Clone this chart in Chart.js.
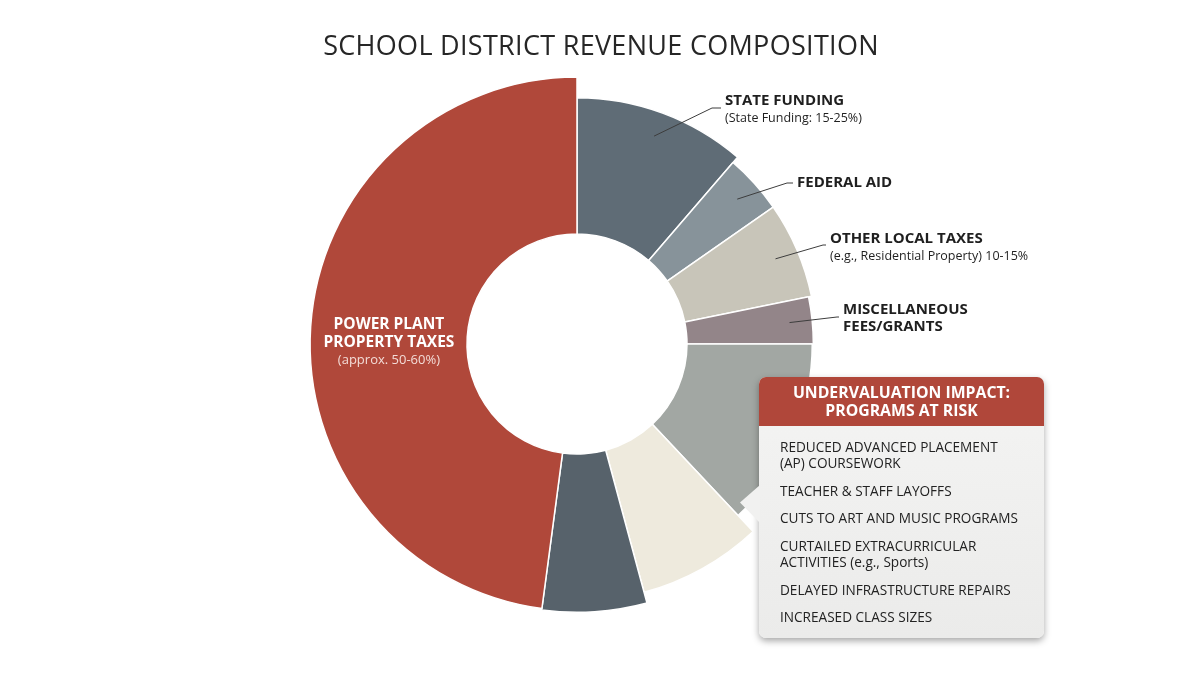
<!DOCTYPE html>
<html>
<head>
<meta charset="utf-8">
<title>School District Revenue Composition</title>
<script src="https://cdn.jsdelivr.net/npm/chart.js@4.4.0/dist/chart.umd.min.js"></script>
<style>
  html, body { margin: 0; padding: 0; background: #fff; }
  #wrap { position: relative; width: 1200px; height: 675px; overflow: hidden; font-family: "Open Sans", sans-serif; }
  #chart { position: absolute; left: 0; top: 0; }
  h1 { position: absolute; left: 0; top: 26px; width: 1202px; margin: 0; text-align: center;
       font-weight: 400; font-size: 27px; color: #262626; letter-spacing: 0.3px; }
  .risk { position: absolute; left: 759px; top: 377px; width: 285px; height: 261px; border-radius: 7px;
          background: linear-gradient(#f4f4f3, #ebebea); box-shadow: 0 3px 7px rgba(0,0,0,0.35); }
  .risk .head { background: #b0473a; color: #fff; border-radius: 7px 7px 0 0; height: 49px; box-sizing: border-box;
                padding-top: 6px; text-align: center; font-weight: 700; font-size: 15.8px; line-height: 18px; }
  .risk ul { list-style: none; margin: 0; padding: 13px 0 0 21px; font-size: 13.6px; line-height: 16px; color: #222; font-weight: 500; }
  .risk li { margin-bottom: 11.7px; }
  .pointer { position: absolute; left: 740px; top: 485px; width: 20px; height: 38px; background: #f1f1f0;
             clip-path: polygon(0 46%, 100% 0, 100% 100%); filter: drop-shadow(0 3px 1px rgba(0,0,0,0.4)); }
</style>
</head>
<body>
<div id="wrap">
  <canvas id="chart" width="1200" height="675"></canvas>
  <h1>SCHOOL DISTRICT REVENUE COMPOSITION</h1>
  <div class="risk">
    <div class="head">UNDERVALUATION IMPACT:<br>PROGRAMS AT RISK</div>
    <ul>
      <li>REDUCED ADVANCED PLACEMENT<br>(AP) COURSEWORK</li>
      <li>TEACHER &amp; STAFF LAYOFFS</li>
      <li>CUTS TO ART AND MUSIC PROGRAMS</li>
      <li>CURTAILED EXTRACURRICULAR<br>ACTIVITIES (e.g., Sports)</li>
      <li>DELAYED INFRASTRUCTURE REPAIRS</li>
      <li>INCREASED CLASS SIZES</li>
    </ul>
  </div>
  <div class="pointer"></div>
</div>
<script>
// Data (clockwise from 12 o'clock)
const labels = [
  "State Funding", "Federal Aid", "Other Local Taxes", "Miscellaneous Fees/Grants",
  "Other Revenue A", "Other Revenue B", "Other Revenue C", "Power Plant Property Taxes",
];
const shares = [11.3, 4.0, 6.5, 3.2, 13.0, 7.8, 6.3, 47.9];

// Styles
const sliceColors = ["#5f6c76", "#87939a", "#c8c5b9", "#938589", "#a2a7a3", "#eeeadd", "#57626b", "#b0483a"];
// slices in the picture do not all reach the same outer edge
const sliceReach = [0.918, 0.892, 0.892, 0.881, 0.877, 0.959, 1.0, 0.995];

// Callouts: slice index, elbow point, text start, text lines
const callouts = [
  { index: 0, elbow: [712, 108], textX: 725, lines: [["STATE FUNDING", 700, 15, 101], ["(State Funding: 15-25%)", 400, 12.5, 118]] },
  { index: 1, elbow: [787, 183], textX: 797, lines: [["FEDERAL AID", 700, 15, 183]] },
  { index: 2, elbow: [823, 245], textX: 830, lines: [["OTHER LOCAL TAXES", 700, 15, 239], ["(e.g., Residential Property) 10-15%", 400, 12.5, 256]] },
  { index: 3, elbow: [837, 317], textX: 843, lines: [["MISCELLANEOUS", 700, 15, 310], ["FEES/GRANTS", 700, 15, 327]] },
];
const centerLabel = { index: 7, lines: [["POWER PLANT", 700, 15.5, -19, "#ffffff"], ["PROPERTY TAXES", 700, 15.5, -1, "#ffffff"], ["(approx. 50-60%)", 400, 13, 16, "#f3dcd7"]] };

const FONT = '"Open Sans", sans-serif';

const reachPlugin = {
  id: "reach",
  afterDatasetsUpdate(chart) {
    chart.getDatasetMeta(0).data.forEach((arc, i) => {
      arc.outerRadius = arc.outerRadius * sliceReach[i];
    });
  },
};

const calloutPlugin = {
  id: "callouts",
  afterDatasetsDraw(chart) {
    const ctx = chart.ctx;
    const arcs = chart.getDatasetMeta(0).data;
    ctx.save();
    ctx.textBaseline = "middle";
    callouts.forEach((c) => {
      const a = arcs[c.index];
      const mid = (a.startAngle + a.endAngle) / 2;
      const r = a.innerRadius + 0.82 * (a.outerRadius - a.innerRadius);
      const sx = a.x + Math.cos(mid) * r;
      const sy = a.y + Math.sin(mid) * r;
      ctx.strokeStyle = "#3d3d3d";
      ctx.lineWidth = 1;
      ctx.beginPath();
      ctx.moveTo(sx, sy);
      ctx.lineTo(c.elbow[0], c.elbow[1]);
      ctx.lineTo(c.textX - 4, c.elbow[1]);
      ctx.stroke();
      ctx.fillStyle = "#1f1f1f";
      ctx.textAlign = "left";
      c.lines.forEach(([txt, w, size, y]) => {
        ctx.font = `${w} ${size}px ${FONT}`;
        ctx.fillText(txt, c.textX, y);
      });
    });
    // label inside the big slice
    const big = arcs[centerLabel.index];
    const p = big.getCenterPoint();
    ctx.textAlign = "center";
    centerLabel.lines.forEach(([txt, w, size, dy, col]) => {
      ctx.font = `${w} ${size}px ${FONT}`;
      ctx.fillStyle = col;
      ctx.fillText(txt, p.x, big.y + dy);
    });
    ctx.restore();
  },
};

new Chart(document.getElementById("chart"), {
  type: "doughnut",
  data: {
    labels: labels,
    datasets: [{
      data: shares,
      backgroundColor: sliceColors,
      borderColor: "#ffffff",
      borderWidth: 1.5,
    }],
  },
  options: {
    responsive: false,
    animation: false,
    events: [],
    cutout: 110,
    layout: { padding: { left: 308, right: 354, top: 75, bottom: 62 } },
    plugins: { legend: { display: false }, tooltip: { enabled: false }, title: { display: false } },
  },
  plugins: [reachPlugin, calloutPlugin],
});
</script>
</body>
</html>
